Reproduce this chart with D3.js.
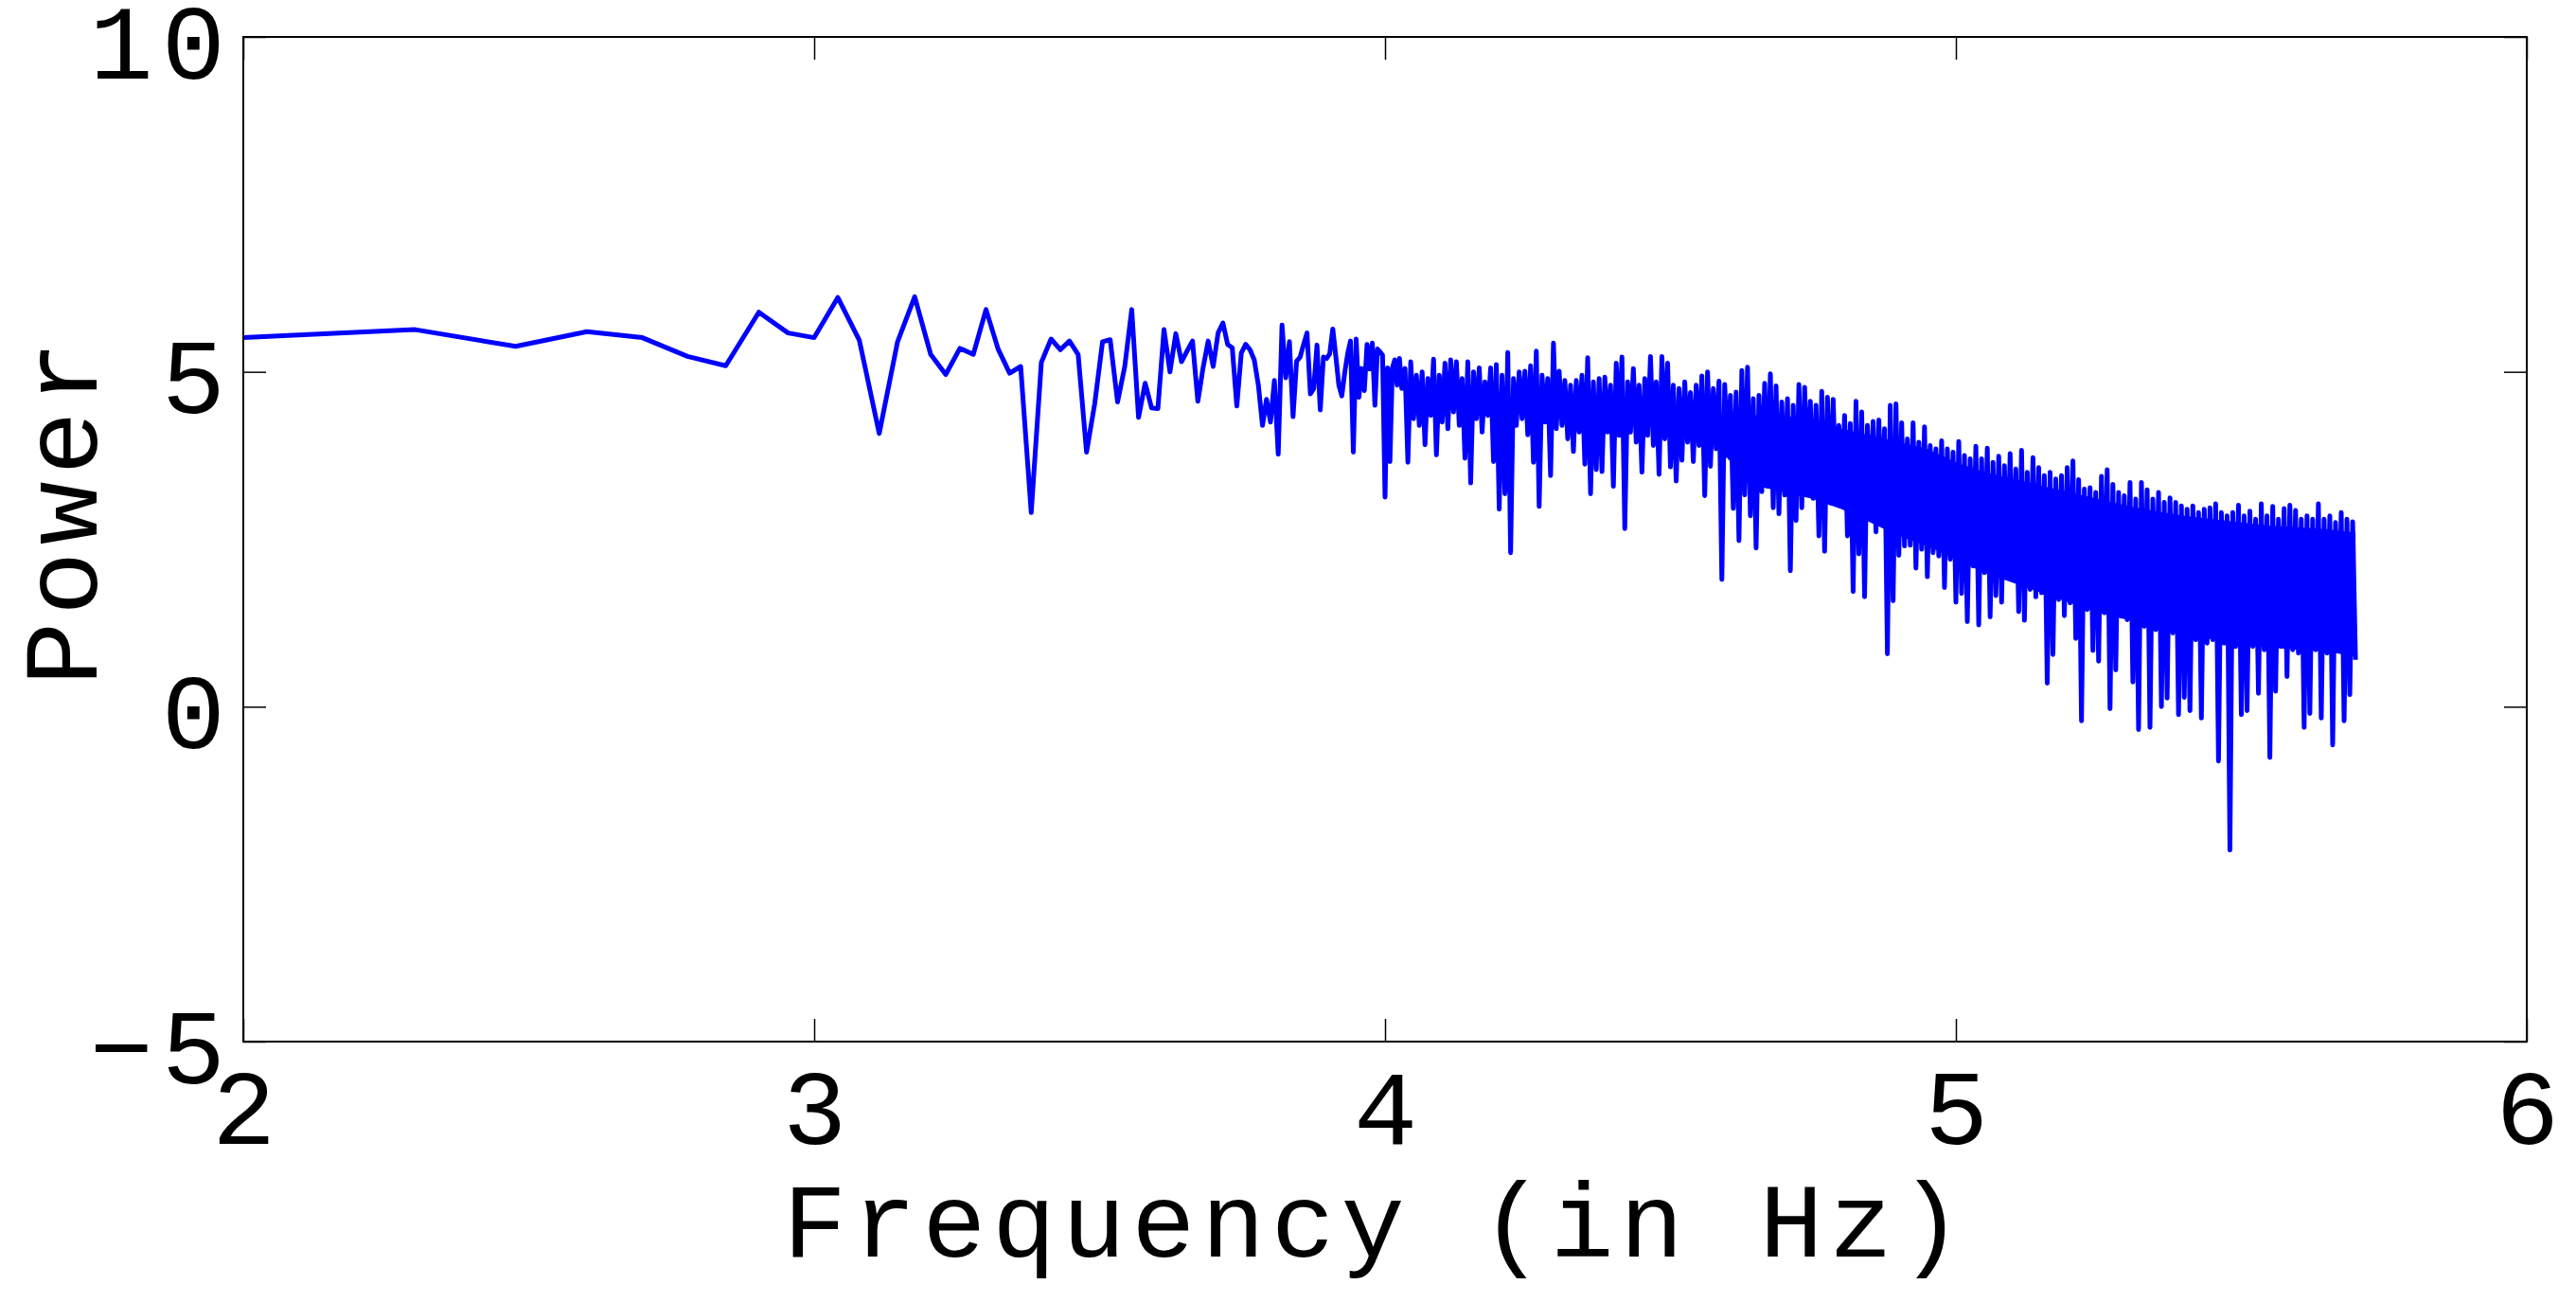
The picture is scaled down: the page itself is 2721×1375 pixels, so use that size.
<!DOCTYPE html>
<html><head><meta charset="utf-8">
<script src="https://cdn.jsdelivr.net/npm/d3@7"></script>
<style>body{margin:0;background:#fff}</style>
</head><body>
<svg id="chart" width="2721" height="1375"></svg>
<script>
// ---- data ----
const xTicks = [2, 3, 4, 5, 6];
const yTicks = [-5, 0, 5, 10];
const xTitle = "Frequency (in Hz)";
const yTitle = "Power";

// individually resolved low-frequency bins (Hz) and their power
const lowFreqHz = [100,200,300,400,500,600,700,800,900,1000,
  1100,1200,1300,1400,1500,1600,1700,1800,1900,2000,
  2100,2200,2300,2400,2500,2600,2700,2800,2900,3000,
  3100,3200,3300,3400,3500,3600,3700,3800,3900,4000,
  4100,4200,4300,4400,4500,4600,4700,4800,4900,5000,
  5100,5200,5300,5400,5500,5600,5700,5800,5900,6000,
  6100,6200,6300,6400,6500,6600,6700,6800,6900,7000,
  7100,7200,7300,7400,7500,7600,7700,7800,7900,8000,
  8100,8200,8300,8400,8500,8600,8700,8800,8900,9000,
  9100,9200,9300,9400,9500,9600,9700,9800,9900,10000,
  10100,10200,10300,10400,10500,10600,10700];
const lowFreqPower = [5.51,5.63,5.38,5.60,5.51,5.23,5.09,5.89,5.58,5.51,
  6.11,5.47,4.08,5.45,6.12,5.26,4.96,5.35,5.26,5.93,
  5.34,4.98,5.08,2.90,5.14,5.49,5.33,5.46,5.26,3.80,
  4.52,5.45,5.48,4.55,5.08,5.93,4.32,4.83,4.46,4.45,
  5.63,5.00,5.57,5.15,5.31,5.46,4.56,5.06,5.46,5.08,
  5.58,5.73,5.41,5.36,4.49,5.28,5.41,5.33,5.18,4.80,
  4.20,4.59,4.25,4.87,3.77,5.70,4.91,5.45,4.33,5.16,
  5.22,5.41,5.58,4.67,4.75,5.40,4.43,5.22,5.20,5.27,
  5.64,5.23,4.80,4.64,4.99,5.27,5.46,3.80,5.49,4.62,
  5.05,4.72,5.41,5.04,5.43,4.50,5.34,5.30,5.25,3.13,
  5.06,3.66,5.06,5.18,4.80,5.20,4.75];

// dense high-frequency part: upper and lower excursions, one pair per 0.01 decade from 10^4.035 Hz
const denseLogStart = 4.035;
const denseLogStep = 0.01;
const denseHigh = [5.05,5.15,4.95,5.00,4.90,5.19,4.95,5.13,5.18,5.15,
  4.90,5.15,5.00,5.06,4.85,5.06,5.11,4.95,5.29,4.90,
  5.00,5.01,5.09,5.31,4.95,4.90,5.43,5.01,4.87,4.80,
  4.87,4.95,5.21,4.85,4.90,4.92,4.80,5.13,5.22,4.85,
  5.05,4.80,4.90,5.23,4.85,5.23,5.13,4.80,4.75,4.85,
  4.69,4.80,4.94,5.00,4.75,4.86,4.81,4.65,4.70,5.02,
  5.07,4.60,4.65,4.83,4.97,4.79,4.55,4.60,4.50,4.81,
  4.77,4.56,4.50,4.71,4.62,4.59,4.20,4.35,4.23,4.56,
  4.40,4.20,4.26,4.28,4.15,4.50,4.52,4.24,4.00,4.24,
  3.95,4.18,3.90,3.85,3.97,3.85,3.80,3.96,3.75,3.70,
  3.89,3.70,3.86,3.65,3.74,3.60,3.78,3.55,3.83,3.50,
  3.72,3.57,3.45,3.50,3.40,3.45,3.57,3.67,3.39,3.25,
  3.27,3.20,3.44,3.54,3.32,3.20,3.15,3.35,3.10,3.35,
  3.24,3.10,3.20,3.05,3.12,3.05,3.00,2.95,3.00,2.90,
  2.95,2.97,3.03,2.90,2.85,2.90,3.01,2.85,2.92,2.80,
  3.03,2.85,2.99,2.80,2.96,3.01,2.93,2.80,2.85,2.80,
  3.03,2.80,2.85,2.75,2.90,2.80,2.76];
const denseLow = [3.65,4.30,4.20,3.91,4.35,3.76,4.25,4.15,4.40,4.20,
  3.71,3.34,4.30,4.10,4.35,3.66,2.95,3.18,2.30,4.20,
  4.30,4.06,3.65,2.99,4.25,3.45,4.15,4.20,4.00,3.81,
  4.10,3.62,3.18,3.54,3.51,4.10,3.29,4.05,2.66,4.10,
  3.95,3.50,4.05,3.90,3.47,4.00,3.58,3.37,3.68,3.95,
  3.66,3.90,3.15,3.59,3.85,1.90,3.75,2.96,2.48,3.16,
  2.85,2.37,3.21,3.29,2.97,2.88,3.16,2.03,2.78,2.97,
  3.40,3.11,2.55,2.32,3.04,3.15,3.08,2.55,1.72,2.28,
  1.64,3.00,2.61,2.95,0.79,1.58,2.26,2.40,2.41,2.07,
  2.35,1.94,2.30,2.25,1.78,2.20,1.56,1.69,1.27,2.10,
  1.22,2.00,1.34,1.66,1.56,1.95,1.90,1.42,1.29,1.75,
  1.64,1.70,0.35,0.78,1.60,1.36,1.55,1.02,-0.21,1.45,
  0.84,0.68,1.40,-0.03,0.55,1.35,1.30,0.37,-0.34,1.20,
  -0.31,1.15,0.00,0.13,1.10,-0.12,0.14,-0.06,1.00,-0.17,
  0.95,1.00,-0.81,0.95,-2.14,0.90,-0.12,-0.06,0.90,0.20,
  0.85,-0.76,0.23,0.90,0.45,0.85,0.80,-0.31,-0.10,0.85,
  -0.17,0.80,-0.57,0.85,-0.21,0.18,0.70];

// solid core of the dense band (log10 Hz, upper edge, lower edge)
const coreLog = [4.60,4.65,4.70,4.75,4.80,4.85,4.90,4.95,5.00,5.05,5.10,5.15,5.20,5.25,5.30,5.35,5.40,5.45,5.50,5.55,5.60,5.65,5.70];
const coreTop = [4.40,4.35,4.35,4.25,4.15,4.05,3.95,3.85,3.65,3.50,3.40,3.30,3.20,3.10,3.00,2.92,2.85,2.80,2.75,2.70,2.68,2.65,2.60];
const coreBottom = [3.70,3.30,3.20,3.10,2.95,2.75,2.55,2.40,2.20,2.00,1.85,1.70,1.55,1.40,1.30,1.20,1.10,1.00,0.92,0.88,0.85,0.82,0.75];

// ---- drawing ----
const W = 2721, H = 1375;
const plot = {left: 257, right: 2669, top: 39, bottom: 1100};
const fontFam = '"Liberation Mono","DejaVu Sans Mono",monospace';
const lineColor = "#0000ff";

const x = d3.scaleLinear().domain([2, 6]).range([plot.left, plot.right]);
const y = d3.scaleLinear().domain([-5, 10]).range([plot.bottom, plot.top]);

const svg = d3.select("#chart");
svg.append("rect").attr("width", W).attr("height", H).attr("fill", "#fff");

const pts = [];
lowFreqHz.forEach((f, i) => pts.push([Math.log10(f), lowFreqPower[i]]));
denseHigh.forEach((h, i) => {
  const L = denseLogStart + i * denseLogStep;
  pts.push([L, h]);
  pts.push([L + denseLogStep / 2, denseLow[i]]);
});

const area = d3.area().x(d => x(d[0])).y0(d => y(d[2])).y1(d => y(d[1]));
svg.append("path")
  .datum(coreLog.map((L, i) => [L, coreTop[i], coreBottom[i]]))
  .attr("d", area)
  .attr("fill", lineColor);

const line = d3.line().x(d => x(d[0])).y(d => y(d[1]));
svg.append("path")
  .datum(pts)
  .attr("d", line)
  .attr("fill", "none")
  .attr("stroke", lineColor)
  .attr("stroke-width", 5)
  .attr("stroke-linejoin", "round");

// axes with inward ticks on all four sides
const fmt = d3.format("d");
const gx = svg.append("g").attr("transform", `translate(0,${plot.bottom})`)
  .call(d3.axisBottom(x).tickValues(xTicks).tickSize(-24).tickPadding(28.5).tickFormat(fmt));
const gxt = svg.append("g").attr("transform", `translate(0,${plot.top})`)
  .call(d3.axisTop(x).tickValues(xTicks).tickSize(-24).tickFormat(""));
const gy = svg.append("g").attr("transform", `translate(${plot.left},0)`)
  .call(d3.axisLeft(y).tickValues(yTicks).tickSize(-24).tickPadding(19).tickFormat(fmt));
const gyr = svg.append("g").attr("transform", `translate(${plot.right},0)`)
  .call(d3.axisRight(y).tickValues(yTicks).tickSize(-24).tickFormat(""));

[gx, gxt, gy, gyr].forEach(g => {
  g.select(".domain").remove();
  g.selectAll(".tick line").attr("stroke", "#000").attr("stroke-width", 1.5);
  g.attr("font-family", fontFam).attr("font-size", 112);
});
gx.selectAll("text").attr("fill", "#000");
gy.selectAll("text").attr("fill", "#000").attr("dy", "0.385em")
  .attr("letter-spacing", 9).attr("x", -10);

svg.append("rect")
  .attr("x", plot.left).attr("y", plot.top)
  .attr("width", plot.right - plot.left).attr("height", plot.bottom - plot.top)
  .attr("fill", "none").attr("stroke", "#000").attr("stroke-width", 2);

svg.append("text")
  .attr("x", 1450).attr("y", 1327)
  .attr("text-anchor", "middle")
  .attr("font-family", fontFam).attr("font-size", 112)
  .attr("textLength", 1246).attr("lengthAdjust", "spacing")
  .attr("fill", "#000")
  .text(xTitle);

svg.append("text")
  .attr("transform", "translate(102,542) rotate(-90)")
  .attr("text-anchor", "middle")
  .attr("font-family", fontFam).attr("font-size", 112)
  .attr("textLength", 364).attr("lengthAdjust", "spacing")
  .attr("fill", "#000")
  .text(yTitle);
</script>
</body></html>
